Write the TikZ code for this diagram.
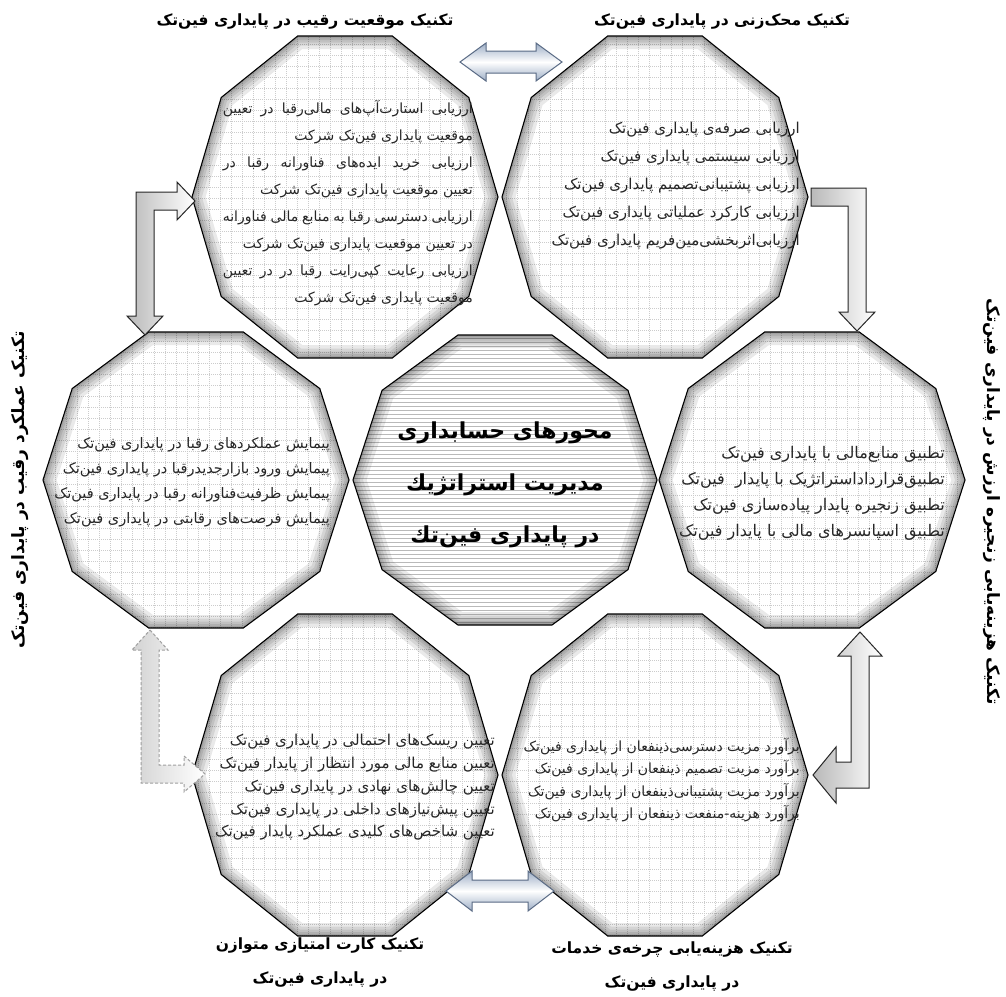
\documentclass[tikz,border=0pt]{standalone}
\usepackage{fontspec}
\newfontfamily\fa[Script=Arabic]{DejaVu Sans}
\TeXXeTstate=1
\usetikzlibrary{calc}
\newcommand\zw{^^^^200c}
\newcommand\RL[1]{\beginR #1\endR}
\definecolor{arrowedge}{HTML}{5A6B85}
\definecolor{arrowfill}{HTML}{9DAEC6}
\newcommand\decag[4]{({#1-#3},{#2}) -- ({#1-0.809*#3},{#2-0.618*#4}) -- ({#1-0.309*#3},{#2-#4}) -- ({#1+0.309*#3},{#2-#4}) -- ({#1+0.809*#3},{#2-0.618*#4}) -- ({#1+#3},{#2}) -- ({#1+0.809*#3},{#2+0.618*#4}) -- ({#1+0.309*#3},{#2+#4}) -- ({#1-0.309*#3},{#2+#4}) -- ({#1-0.809*#3},{#2+0.618*#4}) -- cycle}
\newcommand\polyshadow[4]{\foreach \w in {26,19,13,8,4} \draw[shadowline, line width=\w pt] \decag{#1}{#2}{#3}{#4};}
\newcommand\gridpoly[4]{%
 \begin{scope}
  \clip \decag{#1}{#2}{#3}{#4};
  \fill[white] ({#1-#3},{#2-#4}) rectangle ({#1+#3},{#2+#4});
  \draw[gridline] ({#1-#3},{#2-#4}) grid[step=11pt] ({#1+#3},{#2+#4});
  \polyshadow{#1}{#2}{#3}{#4}
 \end{scope}
 \draw[polyborder] \decag{#1}{#2}{#3}{#4};}
\newcommand\linepoly[4]{%
 \begin{scope}
  \clip \decag{#1}{#2}{#3}{#4};
  \fill[white] ({#1-#3},{#2-#4}) rectangle ({#1+#3},{#2+#4});
  \foreach \yy in {-150,-146,...,150} \draw[hline] ({#1-#3},{#2+\yy}) -- ({#1+#3},{#2+\yy});
  \polyshadow{#1}{#2}{#3}{#4}
 \end{scope}
 \draw[polyborder] \decag{#1}{#2}{#3}{#4};}
\newcommand\dblarrow[6]{%
 \path[#6] let \p1=(#1), \p2=(#2) in (\x1,\y1) -- (\x1+#3pt,\y1+#4pt) -- (\x1+#3pt,\y1+#5pt) -- (\x2-#3pt,\y1+#5pt) -- (\x2-#3pt,\y1+#4pt) -- (\x2,\y2) -- (\x2-#3pt,\y1-#4pt) -- (\x2-#3pt,\y1-#5pt) -- (\x1+#3pt,\y1-#5pt) -- (\x1+#3pt,\y1-#4pt) -- cycle;}
\begin{document}
\begin{tikzpicture}[x=1pt,y=-1pt,
 gridline/.style={gray!40, line width=0.35pt, dash pattern=on 1.2pt off 0.8pt},
 hline/.style={gray!55, line width=0.5pt},
 shadowline/.style={black, opacity=0.085},
 polyborder/.style={black, line width=1.1pt, line join=miter},
 body/.style={align=right, inner sep=0pt, text=black!85},
 lab/.style={font=\fa\bfseries\fontsize{15.5}{34}\selectfont, inner sep=0pt, align=center},
 sidelab/.style={font=\fa\bfseries\fontsize{17}{34}\selectfont, inner sep=0pt},
 centre/.style={font=\fa\bfseries\fontsize{22}{52}\selectfont, inner sep=0pt, align=center},
 bluearrow/.style={draw=arrowedge, line width=1pt, top color=arrowfill, bottom color=arrowfill, middle color=white},
 grayarrow/.style={draw=black!85, line width=1pt, left color=gray!55, right color=white},
 dasharrow/.style={draw=gray!75, line width=1pt, dash pattern=on 3pt off 2pt, left color=gray!35, right color=white},
]
\useasboundingbox (0,0) rectangle (1006,996);
\fill[white] (0,0) rectangle (1006,996);
% polygons (outer ring first, centre last)
\gridpoly{345}{197}{153}{161}
\gridpoly{655}{197}{153}{161}
\gridpoly{345}{775}{153}{161}
\gridpoly{655}{775}{153}{161}
\gridpoly{196}{480}{153}{148}
\gridpoly{812}{480}{153}{148}
\linepoly{505}{480}{152}{145}
% named anchor points
\coordinate (TLe) at (460,62);
\coordinate (TRw) at (562,62);
\coordinate (BLe) at (446,891);
\coordinate (BRw) at (554,891);
% block arrows
\dblarrow{TLe}{TRw}{26}{19}{11}{bluearrow}
\dblarrow{BLe}{BRw}{26}{20}{11}{bluearrow}
\path[grayarrow] (195,201) -- (177,220) -- (177,210) -- (154,210) -- (154,316) -- (163,316) -- (145,335) -- (127,316) -- (136,316) -- (136,192) -- (177,192) -- (177,182) -- cycle;
\path[grayarrow] (811,188) -- (866,188) -- (866,312) -- (875,312) -- (857,331) -- (839,312) -- (848,312) -- (848,206) -- (811,206) -- cycle;
\path[dasharrow] (150,630) -- (168,650) -- (159,650) -- (159,765) -- (184,765) -- (184,756) -- (205,774) -- (184,792) -- (184,783) -- (141,783) -- (141,650) -- (132,650) -- cycle;
\path[grayarrow] (813,775) -- (836,747) -- (836,762) -- (851,762) -- (851,656) -- (838,656) -- (860,632) -- (882,656) -- (869,656) -- (869,788) -- (836,788) -- (836,803) -- cycle;
% polygon texts
\node[body, font=\fa\fontsize{14}{27}\selectfont, anchor=north east] (tlText) at (473,100) {%
\makebox[250pt][s]{\RL{ارزیابی استارت\zw آپ\zw های مالی\zw رقبا در تعیین}}\\
\RL{موقعیت پایداری فین\zw تک شرکت}\\
\makebox[250pt][s]{\RL{ارزیابی خرید ایده\zw های فناورانه رقبا در}}\\
\RL{تعیین موقعیت پایداری فین\zw تک شرکت}\\
\makebox[250pt][s]{\RL{ارزیابی دسترسی رقبا به منابع مالی فناورانه}}\\
\RL{در تعیین موقعیت پایداری فین\zw تک شرکت}\\
\makebox[250pt][s]{\RL{ارزیابی رعایت کپی\zw رایت رقبا در در تعیین}}\\
\RL{موقعیت پایداری فین\zw تک شرکت}};
\node[body, font=\fa\fontsize{15}{28}\selectfont, anchor=north east] (trText) at (800,122) {%
\RL{ارزیابی صرفه\zw ی پایداری فین\zw تک}\\
\RL{ارزیابی سیستمی پایداری فین\zw تک}\\
\RL{ارزیابی پشتیبانی\zw تصمیم پایداری فین\zw تک}\\
\RL{ارزیابی کارکرد عملیاتی پایداری فین\zw تک}\\
\RL{ارزیابی\zw اثربخشی\zw مین\zw فریم پایداری فین\zw تک}};
\node[body, font=\fa\fontsize{14.5}{25}\selectfont, anchor=north east] (mlText) at (330,437) {%
\RL{پیمایش عملکردهای رقبا در پایداری فین\zw تک}\\
\RL{پیمایش ورود بازارجدیدرقبا در پایداری فین\zw تک}\\
\RL{پیمایش ظرفیت\zw فناورانه رقبا در پایداری فین\zw تک}\\
\RL{پیمایش فرصت\zw های رقابتی در پایداری فین\zw تک}};
\node[body, font=\fa\fontsize{16}{26}\selectfont, anchor=north east] (mrText) at (945,446) {%
\RL{تطبیق منابع\zw مالی با پایداری فین\zw تک}\\
\RL{تطبیق\zw قرارداداستراتژیک با پایدار\ \ فین\zw تک}\\
\RL{تطبیق زنجیره پایدار پیاده\zw سازی فین\zw تک}\\
\RL{تطبیق اسپانسرهای مالی با پایدار فین\zw تک}};
\node[body, font=\fa\fontsize{15}{22.8}\selectfont, anchor=north east] (blText) at (495,734) {%
\RL{تعیین ریسک\zw های احتمالی در پایداری فین\zw تک}\\
\RL{تعیین منابع مالی مورد انتظار از پایدار فین\zw تک}\\
\RL{تعیین چالش\zw های نهادی در پایداری فین\zw تک}\\
\RL{تعیین پیش\zw نیازهای داخلی در پایداری فین\zw تک}\\
\RL{تعیین شاخص\zw های کلیدی عملکرد پایدار فین\zw تک}};
\node[body, font=\fa\fontsize{14}{22.5}\selectfont, anchor=north east] (brText) at (800,738) {%
\RL{برآورد مزیت دسترسی\zw ذینفعان از پایداری فین\zw تک}\\
\RL{برآورد مزیت تصمیم ذینفعان از پایداری فین\zw تک}\\
\RL{برآورد مزیت پشتیبانی\zw ذینفعان از پایداری فین\zw تک}\\
\RL{برآورد هزینه-منفعت ذینفعان از پایداری فین\zw تک}};
\node[centre] (ccText) at (505,485) {%
\RL{محورهای حسابداری}\\
\RL{مدیریت استراتژيك}\\
\RL{در پایداری فین\zw تك}};
% outer labels
\node[lab] (tlLab) at (305,22) {\RL{تکنیک موقعیت رقیب در پایداری فین\zw تک}};
\node[lab] (trLab) at (722,22) {\RL{تکنیک محک\zw زنی در پایداری فین\zw تک}};
\node[sidelab, rotate=90] (mlLab) at (20,490) {\RL{تکنیک عملکرد رقیب در پایداری فین\zw تک}};
\node[sidelab, rotate=-90] (mrLab) at (992,502) {\RL{تکنیک هزینه\zw یابی زنجیره ارزش در پایداری فین\zw تک}};
\node[lab] (blLab) at (320,962) {\RL{تکنیک کارت امتیازی متوازن}\\\RL{در پایداری فین\zw تک}};
\node[lab] (brLab) at (672,966) {\RL{تکنیک هزینه\zw یابی چرخه\zw ی خدمات}\\\RL{در پایداری فین\zw تک}};
\end{tikzpicture}
\end{document}
